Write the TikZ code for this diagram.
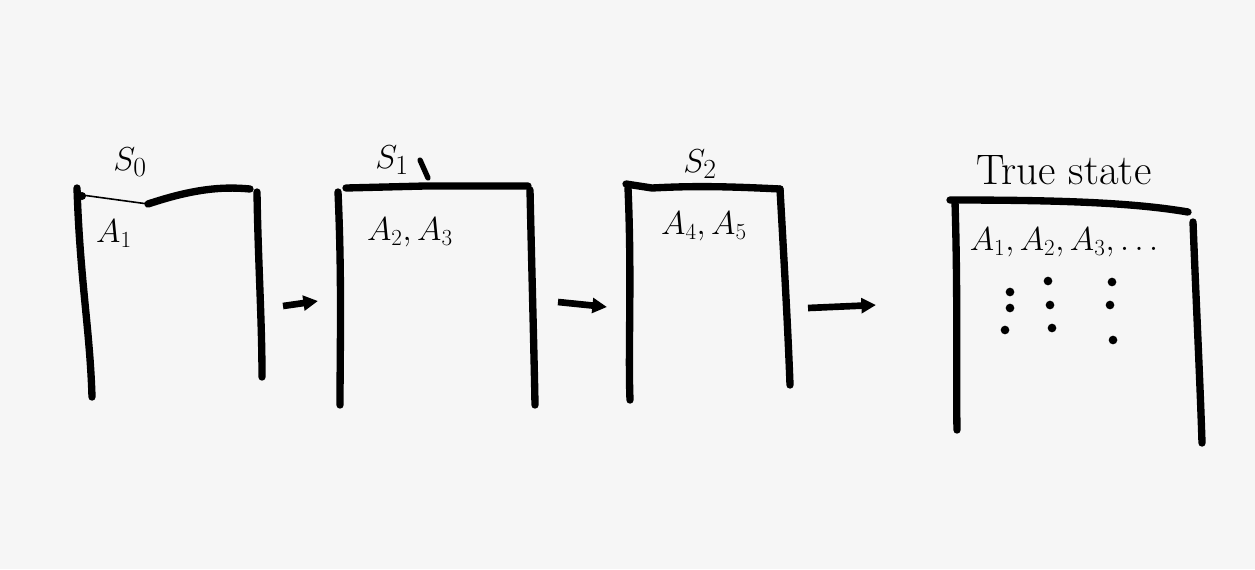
\documentclass[tikz,border=0pt]{standalone}
\usetikzlibrary{arrows.meta}
\begin{document}
\begin{tikzpicture}[x=0.75pt,y=-0.75pt,
  pen/.style={line width=5.5pt,line cap=round,line join=round},
  thinpen/.style={line width=1.2pt,line cap=round},
  flow/.style={line width=5pt,-{Triangle[length=11pt,width=11pt]},shorten >=0pt},
  lbl/.style={font=\fontsize{32}{34}\selectfont,inner sep=0pt},
  sub/.style={font=\fontsize{27}{29}\selectfont,inner sep=0pt},
  dot/.style={circle,fill=black,inner sep=0pt,minimum size=6.5pt}]
\fill[gray!7] (0,0) rectangle (1255,569);
\useasboundingbox (0,0) rectangle (1255,569);

% ---- box S0
\draw[pen] (77,188) .. controls (80,280) and (90,330) .. (92,397);
\draw[thinpen] (82,195) -- (148,204);
\fill (82,196) circle (3pt);
\draw[pen] (148,204) .. controls (190,190) and (220,186) .. (250,189);
\draw[pen] (257,192) .. controls (258,260) and (262,320) .. (262,377);
\node[lbl] (s0) at (130,162) {$S_0$};
\node[sub] (a1) at (114,234) {$A_1$};

% ---- box S1
\draw[pen] (338,192) .. controls (342,280) and (340,350) .. (340,405);
\draw[pen] (346,188) -- (425,186) -- (528,186);
\draw[pen] (530,190) .. controls (532,280) and (534,350) .. (535,405);
\draw[line width=4pt,line cap=round] (420,160) -- (428,178);
\node[lbl] (s1) at (392,160) {$S_1$};
\node[sub] (a23) at (410,232) {$A_2, A_3$};

% ---- box S2
\draw[pen] (628,188) .. controls (632,280) and (628,350) .. (630,400);
\draw[pen] (626,184) -- (652,188) .. controls (690,186) and (720,186) .. (780,189);
\draw[pen] (780,189) .. controls (784,260) and (788,330) .. (790,385);
\node[lbl] (s2) at (700,164) {$S_2$};
\node[sub] (a45) at (704,226) {$A_4, A_5$};

% ---- true state box
\draw[pen] (950,200) .. controls (1050,200) and (1130,202) .. (1188,212);
\draw[pen] (955,202) .. controls (958,300) and (956,380) .. (957,430);
\draw[pen] (1193,222) .. controls (1196,300) and (1200,380) .. (1202,443);
\node[lbl] (ts) at (1064,170) {True state};
\node[sub] (alist) at (1064,242) {$A_1, A_2, A_3, \ldots$};
\node[dot] (d11) at (1010,292) {};
\node[dot] (d12) at (1010,308) {};
\node[dot] (d13) at (1005,330) {};
\node[dot] (d21) at (1048,281) {};
\node[dot] (d22) at (1050,305) {};
\node[dot] (d23) at (1052,328) {};
\node[dot] (d31) at (1112,282) {};
\node[dot] (d32) at (1110,305) {};
\node[dot] (d33) at (1113,340) {};

% ---- arrows
\coordinate (p1) at (283,306);
\coordinate (q1) at (318,301);
\coordinate (p2) at (558,302);
\coordinate (q2) at (607,307);
\coordinate (p3) at (808,308);
\coordinate (q3) at (876,305);
\draw[flow] (p1) -- (q1);
\draw[flow] (p2) -- (q2);
\draw[flow] (p3) -- (q3);
\end{tikzpicture}
\end{document}
